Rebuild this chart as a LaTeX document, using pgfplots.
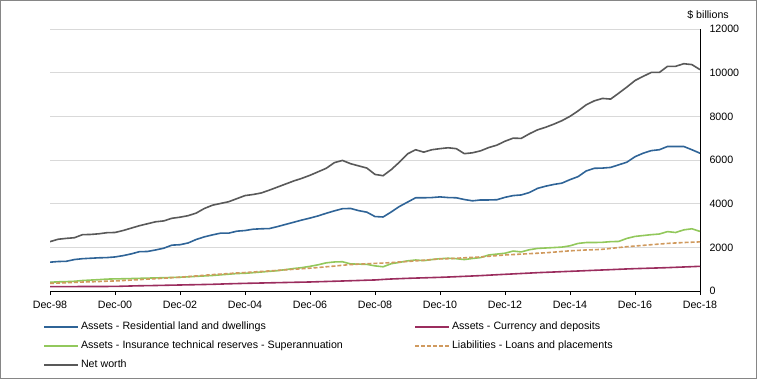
\documentclass[border=0pt]{standalone}
\usepackage{pgfplots}
\usepackage{pgfplotstable}
\pgfplotsset{compat=1.18}
\usepackage{fontspec}
\setmainfont{Liberation Sans}
\definecolor{cres}{HTML}{2F6497}
\definecolor{ccur}{HTML}{9B2D5E}
\definecolor{csup}{HTML}{92C85C}
\definecolor{cloan}{HTML}{D09A5E}
\definecolor{cnw}{HTML}{595959}
\definecolor{cgrid}{HTML}{D9D9D9}
\definecolor{cframe}{HTML}{868686}

\pgfplotstableread{
q res cur sup loan nw
0 1320 200 400 350 2260
1 1350 200 420 365 2370
2 1360 202 430 380 2410
3 1440 203 445 395 2440
4 1480 205 480 410 2580
5 1500 205 500 420 2590
6 1520 207 520 435 2620
7 1530 208 545 450 2670
8 1560 210 555 460 2680
9 1620 220 560 480 2770
10 1700 230 570 500 2880
11 1800 240 580 520 2990
12 1810 245 590 545 3080
13 1880 252 600 565 3170
14 1960 260 610 585 3210
15 2100 268 620 610 3330
16 2120 275 630 630 3380
17 2200 283 650 660 3450
18 2360 290 670 690 3570
19 2480 298 690 720 3780
20 2570 306 710 750 3930
21 2650 318 740 775 4010
22 2650 330 770 800 4090
23 2740 340 800 825 4230
24 2770 350 810 845 4370
25 2830 358 840 870 4420
26 2850 366 870 895 4490
27 2860 374 900 920 4620
28 2950 382 930 945 4760
29 3050 390 980 970 4900
30 3150 398 1030 995 5040
31 3250 405 1070 1020 5160
32 3340 413 1130 1045 5300
33 3440 425 1200 1075 5460
34 3560 436 1290 1110 5620
35 3670 447 1330 1140 5880
36 3770 458 1340 1180 5980
37 3780 470 1240 1210 5830
38 3680 482 1230 1230 5730
39 3610 495 1220 1250 5630
40 3410 505 1150 1265 5340
41 3390 530 1110 1280 5280
42 3620 550 1250 1300 5560
43 3870 565 1310 1330 5900
44 4070 580 1380 1350 6280
45 4270 592 1420 1380 6470
46 4270 603 1390 1410 6360
47 4280 615 1440 1440 6470
48 4310 626 1480 1470 6520
49 4280 640 1500 1480 6560
50 4270 655 1480 1500 6520
51 4190 672 1440 1520 6290
52 4130 688 1490 1540 6330
53 4170 705 1530 1560 6420
54 4170 725 1650 1590 6570
55 4180 745 1690 1620 6680
56 4290 764 1730 1650 6860
57 4370 783 1830 1670 7000
58 4400 802 1790 1690 6990
59 4510 820 1890 1710 7200
60 4700 840 1950 1730 7380
61 4800 855 1970 1750 7500
62 4880 870 1990 1780 7640
63 4940 886 2010 1810 7800
64 5100 901 2070 1840 8000
65 5240 916 2180 1860 8250
66 5500 932 2220 1880 8530
67 5620 948 2220 1890 8710
68 5630 963 2230 1910 8820
69 5660 978 2260 1950 8790
70 5780 994 2270 1990 9060
71 5900 1010 2410 2030 9340
72 6150 1024 2500 2060 9640
73 6310 1035 2540 2090 9830
74 6430 1047 2580 2120 10010
75 6470 1058 2610 2150 10010
76 6620 1070 2720 2180 10290
77 6620 1085 2680 2200 10290
78 6620 1100 2800 2220 10410
79 6470 1115 2850 2235 10370
80 6310 1131 2730 2250 10140
}\datatable

\begin{document}
\begin{tikzpicture}
\useasboundingbox (0,0) rectangle (757bp,379bp);
\begin{axis}[
  at={(50bp,88bp)}, anchor=south west,
  scale only axis, width=650bp, height=262bp,
  xmin=0, xmax=80, ymin=0, ymax=12000,
  axis x line*=bottom, axis y line*=right,
  axis line style={black, line width=0.8bp},
  xtick={0,8,...,80},
  xticklabels={Dec-98,Dec-00,Dec-02,Dec-04,Dec-06,Dec-08,Dec-10,Dec-12,Dec-14,Dec-16,Dec-18},
  ytick={0,2000,...,12000},
  scaled y ticks=false,
  ymajorgrids, major grid style={cgrid, line width=0.8bp},
  tick align=outside,
  major tick length=4bp,
  xtick style={black, line width=0.8bp},
  ytick style={draw=none},
  /pgf/number format/assume math mode=true,
  /pgf/number format/1000 sep={},
  tick label style={font=\fontsize{10.7}{12}\selectfont, black},
  yticklabel style={anchor=west, xshift=2bp},
  xticklabel style={yshift=-2.5bp},
  legend columns=2,
  legend cell align=left,
  legend image code/.code={\draw[line width=2bp, #1] (0bp,0bp) -- (34bp,0bp);},
  legend style={at={(axis description cs:-0.011,-0.11)}, anchor=north west,
    draw=none, fill=none, inner sep=0pt, column sep=0pt, row sep=4.5bp,
    font=\fontsize{10.7}{12}\selectfont,
    nodes={inner sep=2bp, text height=7.7bp, text depth=2.5bp}},
  every axis plot/.append style={line width=1.6bp, line join=round},
]
\addplot[cres, no marks] table[x=q, y=res] {\datatable};
\addlegendentry{\makebox[331bp][l]{Assets - Residential land and dwellings}}
\addplot[ccur, no marks] table[x=q, y=cur] {\datatable};
\addlegendentry{Assets - Currency and deposits}
\addplot[csup, no marks] table[x=q, y=sup] {\datatable};
\addlegendentry{\makebox[331bp][l]{Assets - Insurance technical reserves - Superannuation}}
\addplot[cloan, no marks, dash pattern=on 4bp off 2bp] table[x=q, y=loan] {\datatable};
\addlegendentry{Liabilities - Loans and placements}
\addplot[cnw, no marks] table[x=q, y=nw] {\datatable};
\addlegendentry{Net worth}
\end{axis}
\node[anchor=base east, inner sep=0pt, font=\fontsize{10.7}{12}\selectfont] at (729bp,360bp) {\$ billions};
\draw[cframe, line width=1bp] (0.5bp,0.5bp) rectangle (756.5bp,378.5bp);
\end{tikzpicture}
\end{document}
